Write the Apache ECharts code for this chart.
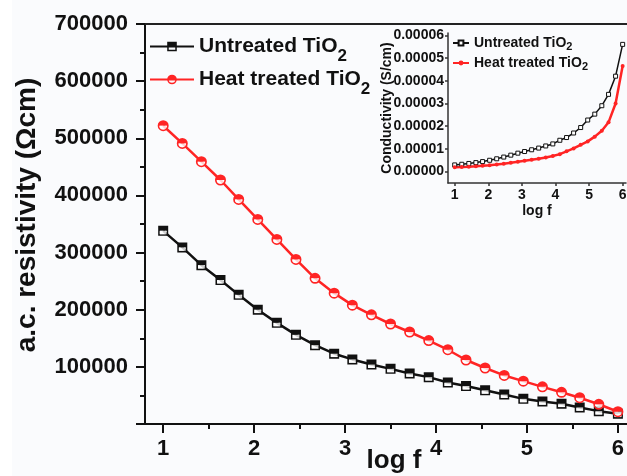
<!DOCTYPE html>
<html>
<head>
<meta charset="utf-8">
<script src="https://cdn.jsdelivr.net/npm/echarts@6/dist/echarts.min.js"></script>
<style>
  html, body { margin: 0; padding: 0; background: #fafbfd; }
  #chart { width: 627px; height: 476px; }
</style>
</head>
<body>
<div id="chart"></div>
<script>
// log f sampling points (25 per sweep)
const logF = [1.00, 1.21, 1.42, 1.63, 1.83, 2.04, 2.25, 2.46, 2.67, 2.88, 3.08, 3.29, 3.50,
              3.71, 3.92, 4.13, 4.33, 4.54, 4.75, 4.96, 5.17, 5.38, 5.58, 5.79, 6.00];

// a.c. resistivity (Ω cm)
const resUntreated = [338000, 309000, 278000, 252000, 226000, 200000, 177000, 156000, 138000,
                      123000, 113000, 104000, 96500, 88500, 82000, 72500, 66500, 59000, 51500,
                      44000, 39500, 35500, 29000, 22500, 18000];
const resHeatTreated = [522000, 491000, 459000, 427000, 393000, 358000, 323000, 288000, 255000,
                        229000, 208000, 191000, 175000, 161000, 146000, 130000, 112000, 98000,
                        85000, 75000, 65000, 55500, 46000, 34500, 21500];

// conductivity (S/cm), inset
const condUntreated = [0.00000296, 0.00000324, 0.00000360, 0.00000397, 0.00000442, 0.00000500,
                       0.00000565, 0.00000641, 0.00000725, 0.00000813, 0.00000885, 0.00000962,
                       0.00001036, 0.00001130, 0.00001220, 0.00001380, 0.00001500, 0.00001700,
                       0.00001940, 0.00002270, 0.00002530, 0.00002900, 0.00003400, 0.00004200,
                       0.00005600];
const condHeatTreated = [0.00000192, 0.00000204, 0.00000218, 0.00000234, 0.00000254, 0.00000279,
                         0.00000310, 0.00000347, 0.00000392, 0.00000437, 0.00000481, 0.00000524,
                         0.00000571, 0.00000621, 0.00000685, 0.00000769, 0.00000893, 0.00001020,
                         0.00001180, 0.00001330, 0.00001540, 0.00001800, 0.00002170, 0.00003000,
                         0.00004650];

// tick positions
const xMajorTicks = [1, 2, 3, 4, 5, 6];
const xMinorTicks = [1.5, 2.5, 3.5, 4.5, 5.5];
const insetYTicks = [0, 0.00001, 0.00002, 0.00003, 0.00004, 0.00005, 0.00006];

// series names
const nameUntreated = 'Untreated TiO2';
const nameHeatTreated = 'Heat treated TiO2';
const insetSuffix = ' (σ)';

const FONT = '"Liberation Sans", Arial, Helvetica, sans-serif';
const BLACK = '#111111';
const RED = '#ff2424';
const AXIS_GREY = '#333333';

// Half-filled markers: solid upper half, hollow lower half (inner contour wound the other way)
const HALF_SQUARE = 'path://M0,0L10,0L10,10L0,10Z M1.6,5L1.6,8.4L8.4,8.4L8.4,5Z';
const HALF_CIRCLE = 'path://M0,5A5,5 0 1 1 10,5A5,5 0 1 1 0,5Z M1.6,5A3.4,3.4 0 0 0 8.4,5Z';
const LOWER_HALF_DISC = 'path://M0,0A5,5 0 0 0 10,0Z';

const pairs = (ys) => logF.map((x, i) => [x, ys[i]]);

// "TiO2" with subscript 2
function legendRich(name) {
  const base = name.replace(insetSuffix, '');
  return '{t|' + base.slice(0, -1) + '}{s|' + base.slice(-1) + '}';
}

function mainLegend(name, top) {
  return {
    data: [name], left: 149, top: top, orient: 'vertical', padding: 0,
    itemWidth: 44, itemHeight: 12, selectedMode: false,
    formatter: legendRich,
    textStyle: {
      color: BLACK, fontFamily: FONT,
      rich: {
        t: { fontSize: 21, fontWeight: 'bold', color: BLACK, fontFamily: FONT },
        s: { fontSize: 17, fontWeight: 'bold', color: BLACK, fontFamily: FONT, padding: [20, 0, 0, 0] }
      }
    }
  };
}

function insetLegend(name, top) {
  return {
    data: [name], left: 452, top: top, orient: 'vertical', padding: 0,
    itemWidth: 16, itemHeight: 6, selectedMode: false,
    formatter: legendRich,
    textStyle: {
      color: BLACK, fontFamily: FONT,
      rich: {
        t: { fontSize: 14, fontWeight: 'bold', color: BLACK, fontFamily: FONT },
        s: { fontSize: 11, fontWeight: 'bold', color: BLACK, fontFamily: FONT, padding: [8, 0, 0, 0] }
      }
    }
  };
}

const boldText = (size) => ({ fontSize: size, fontWeight: 'bold', color: BLACK, fontFamily: FONT });

const option = {
  backgroundColor: '#fafbfd',
  animation: false,
  textStyle: { fontFamily: FONT },
  graphic: [
    { type: 'rect', left: 0, top: 0, shape: { width: 12, height: 476 }, style: { fill: '#ffffff' }, silent: true, z: -10 }
  ],
  legend: [
    mainLegend(nameUntreated, 36),
    mainLegend(nameHeatTreated, 69),
    insetLegend(nameUntreated + insetSuffix, 36),
    insetLegend(nameHeatTreated + insetSuffix, 56)
  ],
  grid: [
    { left: 145, top: 24, right: 0, bottom: 52, containLabel: false, outerBoundsMode: 'none' },
    { left: 448, top: 33, right: 1, bottom: 293, containLabel: false, outerBoundsMode: 'none' }
  ],
  xAxis: [
    {
      gridIndex: 0, type: 'value', min: 0.8, max: 6.1, position: 'bottom',
      name: 'log f', nameLocation: 'middle', nameGap: 24, nameMoveOverlap: false,
      nameTextStyle: Object.assign(boldText(26), { padding: [0, 0, 0, 16] }),
      axisLine: { show: true, onZero: false, lineStyle: { color: BLACK, width: 2 } },
      axisTick: { show: true, customValues: xMajorTicks, length: 9, lineStyle: { color: BLACK, width: 2 } },
      axisLabel: Object.assign(boldText(22), { customValues: xMajorTicks, margin: 14 }),
      splitLine: { show: false }
    },
    {
      gridIndex: 0, type: 'value', min: 0.8, max: 6.1, position: 'bottom',
      axisLine: { show: false },
      axisTick: { show: true, customValues: xMinorTicks, length: 5, lineStyle: { color: BLACK, width: 2 } },
      axisLabel: { show: false },
      splitLine: { show: false }
    },
    {
      gridIndex: 0, type: 'value', min: 0.8, max: 6.1, position: 'top',
      axisLine: { show: true, onZero: false, lineStyle: { color: '#222222', width: 2 } },
      axisTick: { show: false }, axisLabel: { show: false }, splitLine: { show: false }
    },
    {
      gridIndex: 1, type: 'value', min: 0.8, max: 6.1, position: 'bottom',
      name: 'log f', nameLocation: 'middle', nameGap: 21, nameMoveOverlap: false,
      nameTextStyle: boldText(14),
      axisLine: { show: true, onZero: false, lineStyle: { color: AXIS_GREY, width: 1.5 } },
      axisTick: { show: true, customValues: xMajorTicks, length: 3, lineStyle: { color: AXIS_GREY, width: 1.5 } },
      axisLabel: Object.assign(boldText(14), { customValues: xMajorTicks, margin: 5 }),
      splitLine: { show: false }
    }
  ],
  yAxis: [
    {
      gridIndex: 0, type: 'value', min: 0, max: 700000, interval: 100000, position: 'left',
      name: 'a.c. resistivity (Ωcm)', nameLocation: 'middle', nameRotate: 90, nameGap: 104,
      nameMoveOverlap: false,
      nameTextStyle: Object.assign(boldText(28), { padding: [0, 0, 0, 18] }),
      axisLine: { show: true, onZero: false, lineStyle: { color: BLACK, width: 2 } },
      axisTick: { show: true, length: 9, lineStyle: { color: BLACK, width: 2 } },
      minorTick: { show: true, splitNumber: 2, length: 5, lineStyle: { color: BLACK, width: 2 } },
      axisLabel: Object.assign(boldText(22), { margin: 17, formatter: (v) => (v === 0 ? '' : String(v)) }),
      splitLine: { show: false }
    },
    {
      gridIndex: 1, type: 'value', min: -0.000005, max: 0.000061, position: 'left',
      name: 'Conductivity (S/cm)', nameLocation: 'middle', nameRotate: 90, nameGap: 54,
      nameMoveOverlap: false,
      nameTextStyle: boldText(14),
      axisLine: { show: true, onZero: false, lineStyle: { color: AXIS_GREY, width: 1.5 } },
      axisTick: { show: true, customValues: insetYTicks, length: 3, lineStyle: { color: AXIS_GREY, width: 1.5 } },
      axisLabel: Object.assign(boldText(14), { customValues: insetYTicks, margin: 4, formatter: (v) => v.toFixed(5) }),
      splitLine: { show: false }
    }
  ],
  series: [
    {
      name: nameUntreated, type: 'line', xAxisIndex: 0, yAxisIndex: 0, z: 2,
      data: pairs(resUntreated), showAllSymbol: true,
      symbol: HALF_SQUARE, symbolSize: 10,
      itemStyle: { color: BLACK },
      lineStyle: { color: BLACK, width: 2.5 }
    },
    {
      type: 'scatter', xAxisIndex: 0, yAxisIndex: 0, z: 3, silent: true,
      data: pairs(resUntreated),
      symbol: 'rect', symbolSize: [6.8, 3.4], symbolOffset: [0, 1.7],
      itemStyle: { color: '#ffffff' }
    },
    {
      name: nameHeatTreated, type: 'line', xAxisIndex: 0, yAxisIndex: 0, z: 4,
      data: pairs(resHeatTreated), showAllSymbol: true,
      symbol: HALF_CIRCLE, symbolSize: 11,
      itemStyle: { color: RED },
      lineStyle: { color: RED, width: 2.5 }
    },
    {
      type: 'scatter', xAxisIndex: 0, yAxisIndex: 0, z: 5, silent: true,
      data: pairs(resHeatTreated),
      symbol: LOWER_HALF_DISC, symbolSize: [7.5, 3.75], symbolOffset: [0, 1.87],
      itemStyle: { color: '#ffffff' }
    },
    {
      name: nameUntreated + insetSuffix, type: 'line', xAxisIndex: 3, yAxisIndex: 1, z: 2,
      data: pairs(condUntreated), showAllSymbol: true,
      symbol: 'rect', symbolSize: 4,
      itemStyle: { color: '#ffffff', borderColor: BLACK, borderWidth: 1 },
      lineStyle: { color: BLACK, width: 1.5 }
    },
    {
      name: nameHeatTreated + insetSuffix, type: 'line', xAxisIndex: 3, yAxisIndex: 1, z: 2,
      data: pairs(condHeatTreated), showAllSymbol: true,
      symbol: 'circle', symbolSize: 4,
      itemStyle: { color: RED },
      lineStyle: { color: RED, width: 2.5 }
    }
  ]
};

const chart = echarts.init(document.getElementById('chart'), null, { renderer: 'canvas' });
chart.setOption(option);
</script>
</body>
</html>
